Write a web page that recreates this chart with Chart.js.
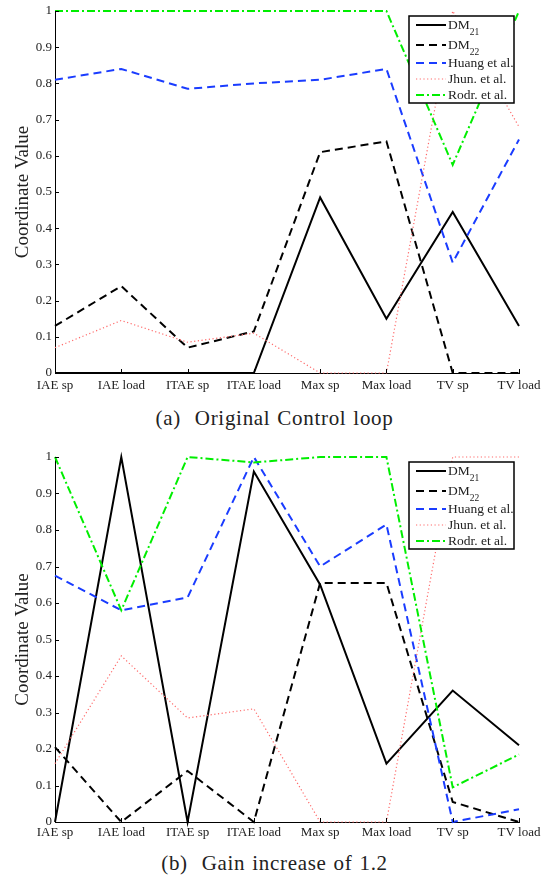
<!DOCTYPE html>
<html>
<head>
<meta charset="utf-8">
<script src="https://cdn.jsdelivr.net/npm/chart.js@4"></script>
<style>
  body { margin:0; background:#fff; width:547px; height:875px; position:relative; overflow:hidden; }
  .box { position:absolute; left:0; width:547px; height:400px; }
  .cap { position:absolute; left:0; width:547px; text-align:center; line-height:24px;
         font-family:"Liberation Serif","DejaVu Serif",serif; font-size:21px; letter-spacing:0.7px;
         word-spacing:1px; color:#222; }
</style>
</head>
<body>
<div class="box" style="top:0"><canvas id="chartA" width="547" height="400"></canvas></div>
<div class="cap" style="top:406px;left:1px">(a)&nbsp; Original Control loop</div>
<div class="box" style="top:446px"><canvas id="chartB" width="547" height="400"></canvas></div>
<div class="cap" style="top:851px;left:1px">(b)&nbsp; Gain increase of 1.2</div>
<script>
// categories shared by both panels
const criteria = ['IAE sp','IAE load','ITAE sp','ITAE load','Max sp','Max load','TV sp','TV load'];
const methods = ['DM_21','DM_22','Huang et al.','Jhun. et al.','Rodr. et al.'];

// (a) original control loop
const dm21A   = [0, 0, 0, 0, 0.485, 0.15, 0.445, 0.13];
const dm22A   = [0.13, 0.24, 0.07, 0.115, 0.61, 0.64, 0, 0];
const huangA  = [0.81, 0.84, 0.785, 0.80, 0.81, 0.84, 0.305, 0.645];
const jhunA   = [0.07, 0.145, 0.085, 0.11, 0, 0, 1.0, 0.68];
const rodrA   = [1, 1, 1, 1, 1, 1, 0.575, 1];

// (b) gain increase of 1.2
const dm21B   = [0, 1.0, 0, 0.96, 0.65, 0.16, 0.36, 0.21];
const dm22B   = [0.205, 0, 0.14, 0, 0.655, 0.655, 0.055, 0];
const huangB  = [0.675, 0.58, 0.615, 1.0, 0.70, 0.815, 0, 0.035];
const jhunB   = [0.16, 0.455, 0.285, 0.31, 0, 0, 1.0, 1.0];
const rodrB   = [1.0, 0.58, 1.0, 0.985, 1.0, 1.0, 0.095, 0.185];

const yTicks = [0,0.1,0.2,0.3,0.4,0.5,0.6,0.7,0.8,0.9,1];

const styles = [
  {borderColor:'#000', borderWidth:2, borderDash:[]},
  {borderColor:'#000', borderWidth:2, borderDash:[8,5]},
  {borderColor:'#1a3cff', borderWidth:2, borderDash:[8,5]},
  {borderColor:'#ff6a6a', borderWidth:1.2, borderDash:[1.2,2.5]},
  {borderColor:'#00ee00', borderWidth:2, borderDash:[8,3,2,3]}
];
const SERIF = '"Liberation Serif","DejaVu Serif",serif';

// inward tick marks drawn from the scales
const innerTicks = {
  id:'innerTicks',
  afterDraw(chart) {
    const c = chart.ctx, x = chart.scales.x, y = chart.scales.y, a = chart.chartArea;
    c.save();
    c.strokeStyle = '#000'; c.lineWidth = 1;
    c.beginPath();
    y.ticks.forEach(t => { const py = Math.round(y.getPixelForValue(t.value)) + 0.5;
      c.moveTo(a.left, py); c.lineTo(a.left + 4, py); });
    x.ticks.forEach((t,i) => { const px = Math.round(x.getPixelForValue(i)) + 0.5;
      c.moveTo(px, a.bottom); c.lineTo(px, a.bottom - 4); });
    c.stroke();
    c.restore();
  }
};

// boxed legend with subscripts, top right
const boxLegend = {
  id:'boxLegend',
  afterDraw(chart) {
    const c = chart.ctx, a = chart.chartArea;
    const bx = a.right - 110, by = a.top + 5, bw = 105, bh = 87;
    const rows = [9, 29, 47, 63, 79];
    c.save();
    c.fillStyle = '#fff'; c.fillRect(bx, by, bw, bh);
    c.strokeStyle = '#000'; c.lineWidth = 1.5; c.setLineDash([]);
    c.strokeRect(bx, by, bw, bh);
    chart.data.datasets.forEach((ds, i) => {
      const ry = by + rows[i];
      c.strokeStyle = ds.borderColor; c.lineWidth = ds.borderWidth; c.setLineDash(ds.borderDash);
      c.beginPath(); c.moveTo(bx + 7, ry); c.lineTo(bx + 37, ry); c.stroke();
      c.fillStyle = '#222'; c.textBaseline = 'middle'; c.textAlign = 'left';
      const [main, sub] = ds.label.split('_');
      c.font = '13.5px ' + SERIF;
      c.fillText(main, bx + 39, ry);
      if (sub) {
        const w = c.measureText(main).width;
        c.font = '9.5px ' + SERIF;
        c.fillText(sub, bx + 39 + w, ry + 7);
      }
    });
    c.restore();
  }
};

function makeChart(id, series, xHeight, labelPad) {
  new Chart(document.getElementById(id), {
    type:'line',
    data:{
      labels: criteria,
      datasets: series.map((d, i) => ({
        label: methods[i], data: d, fill:false, pointRadius:0, tension:0,
        clip:false, order: 5 - i, ...styles[i]
      }))
    },
    options:{
      responsive:false, animation:false,
      layout:{padding:{top:11, right:28, left:0, bottom:0}},
      plugins:{legend:{display:false}, tooltip:{enabled:false}},
      scales:{
        x:{
          grid:{display:true, drawOnChartArea:false, drawTicks:false},
          border:{display:true, color:'#000', width:1},
          ticks:{autoSkip:false, maxRotation:0, padding:labelPad, color:'#222', font:{family:SERIF, size:13}},
          afterFit: s => { s.height = xHeight; }
        },
        y:{
          min:0, max:1,
          grid:{display:true, drawOnChartArea:false, drawTicks:false},
          border:{display:true, color:'#000', width:1},
          afterBuildTicks: s => { s.ticks = yTicks.map(v => ({value:v})); },
          ticks:{padding:3, color:'#222', font:{family:SERIF, size:13},
                 callback: v => String(+v.toFixed(1))},
          title:{display:true, text:'Coordinate Value', color:'#222',
                 font:{family:SERIF, size:19}, padding:{top:12, bottom:0}},
          afterFit: s => { s.width = 55; }
        }
      }
    },
    plugins:[innerTicks, boxLegend]
  });
}

makeChart('chartA', [dm21A, dm22A, huangA, jhunA, rodrA], 27, 5);
makeChart('chartB', [dm21B, dm22B, huangB, jhunB, rodrB], 24, 3);
</script>
</body>
</html>
